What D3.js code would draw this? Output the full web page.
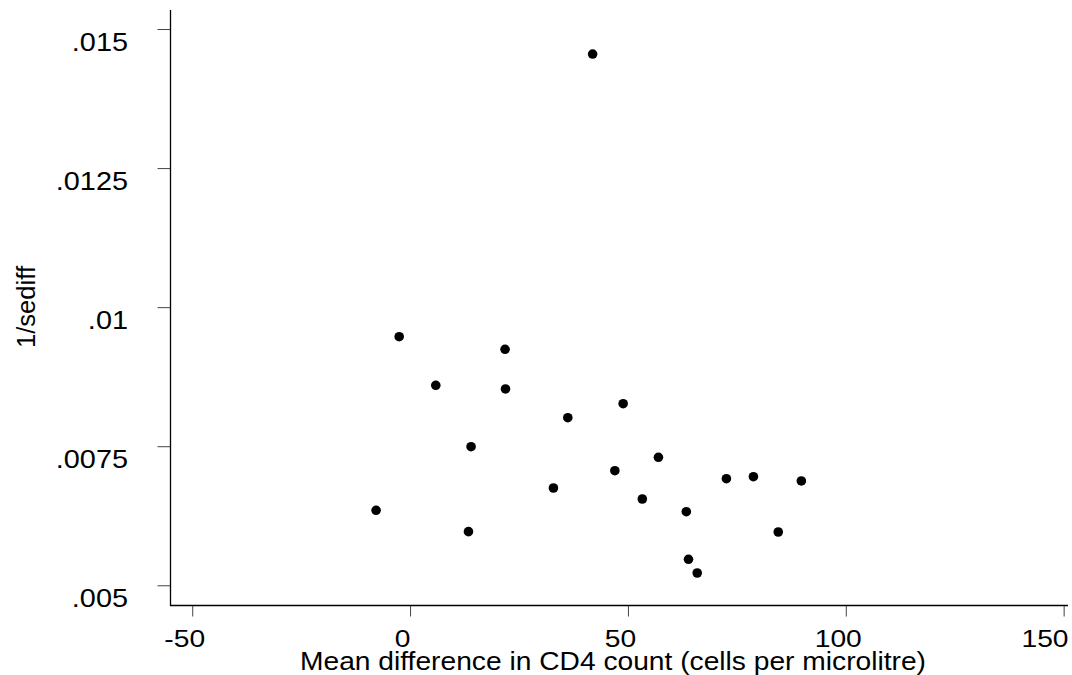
<!DOCTYPE html>
<html>
<head>
<meta charset="utf-8">
<script src="https://cdn.jsdelivr.net/npm/d3@7"></script>
<style>
  html, body { margin: 0; padding: 0; background: #fff; }
  svg { display: block; font-family: "Liberation Sans", Arial, sans-serif; }
</style>
</head>
<body>
<svg id="chart" width="1072" height="675"></svg>
<script>
// Mean difference in CD4 count (x) vs 1/sediff (y)
const meanDiff = [41.9, -2.5, 21.8, 5.9, 21.9, 48.9, 36.2, 14.0, 47.0, 32.9, 57.0,
                  53.3, 63.4, -7.8, 13.4, 72.6, 78.8, 89.8, 84.5, 63.9, 65.9];
const invSediff = [0.01455, 0.009469, 0.009242, 0.008595, 0.008529, 0.008264, 0.008013,
                   0.007491, 0.00706, 0.006749, 0.007301, 0.006551, 0.006323, 0.006348,
                   0.005964, 0.006916, 0.006952, 0.006875, 0.005958, 0.005467, 0.005221];
const xTicks = [-50, 0, 50, 100, 150];
const xTickLabels = ["-50", "0", "50", "100", "150"];
const yTicks = [0.005, 0.0075, 0.01, 0.0125, 0.015];
const yTickLabels = [".005", ".0075", ".01", ".0125", ".015"];
const xTitle = "Mean difference in CD4 count (cells per microlitre)";
const yTitle = "1/sediff";

const svg = d3.select("#chart");
const W = 1072;
const x = d3.scaleLinear().domain([-55.1, 151.0]).range([170, 1068]);
const y = d3.scaleLinear().domain([0.00464, 0.015342]).range([605.3, 10]);

// X axis
const xAxis = d3.axisBottom(x)
  .tickValues(xTicks)
  .tickSize(11)
  .tickFormat((d, i) => xTickLabels[i]);
const gx = svg.append("g").attr("transform", "translate(0,605.5)").call(xAxis);
gx.select(".domain").remove();
gx.selectAll(".tick line").attr("stroke", "#444").attr("stroke-width", 1);
gx.selectAll(".tick text")
  .attr("x", 0).attr("y", 0).attr("dy", null)
  .attr("text-anchor", "middle")
  .attr("fill", "#000")
  .style("font-size", "23.5px")
  .attr("transform", "translate(-8,41) scale(1.2,1)")
  .each(function(d) {
    // keep the last label inside the picture, as in the reference
    const t = d3.select(this);
    const half = this.getComputedTextLength() * 1.2 / 2;
    const cx = x(d) - 8;
    if (cx + half > W - 4) {
      const shift = (W - 4) - half - x(d);
      t.attr("transform", `translate(${shift},41) scale(1.2,1)`);
    }
  });

// Y axis
const yAxis = d3.axisLeft(y)
  .tickValues(yTicks)
  .tickSize(13)
  .tickFormat((d, i) => yTickLabels[i]);
const gy = svg.append("g").attr("transform", "translate(170.5,0)").call(yAxis);
gy.select(".domain").remove();
gy.selectAll(".tick line").attr("stroke", "#444").attr("stroke-width", 1);
gy.selectAll(".tick text")
  .attr("x", 0).attr("y", 0).attr("dy", null)
  .attr("text-anchor", "end")
  .attr("fill", "#000")
  .style("font-size", "26.5px")
  .attr("transform", "translate(-42.5,21) scale(1.09,1)");

// Axis lines
svg.append("line")
  .attr("x1", 170.5).attr("x2", 170.5)
  .attr("y1", y.range()[1]).attr("y2", 606)
  .attr("stroke", "#000").attr("stroke-width", 1.3);
svg.append("line")
  .attr("x1", 170).attr("x2", x.range()[1])
  .attr("y1", 605.5).attr("y2", 605.5)
  .attr("stroke", "#000").attr("stroke-width", 1.3);

// Points
svg.append("g").selectAll("circle")
  .data(meanDiff.map((d, i) => [d, invSediff[i]]))
  .join("circle")
  .attr("cx", d => x(d[0]))
  .attr("cy", d => y(d[1]))
  .attr("r", 4.8)
  .attr("fill", "#000");

// Titles
svg.append("text")
  .attr("x", 613).attr("y", 670)
  .attr("text-anchor", "middle")
  .attr("textLength", 626)
  .attr("lengthAdjust", "spacingAndGlyphs")
  .style("font-size", "25px")
  .attr("fill", "#000")
  .text(xTitle);

svg.append("text")
  .attr("transform", "translate(35,307) rotate(-90)")
  .attr("text-anchor", "middle")
  .attr("textLength", 82)
  .attr("lengthAdjust", "spacingAndGlyphs")
  .style("font-size", "26px")
  .attr("fill", "#000")
  .text(yTitle);
</script>
</body>
</html>
